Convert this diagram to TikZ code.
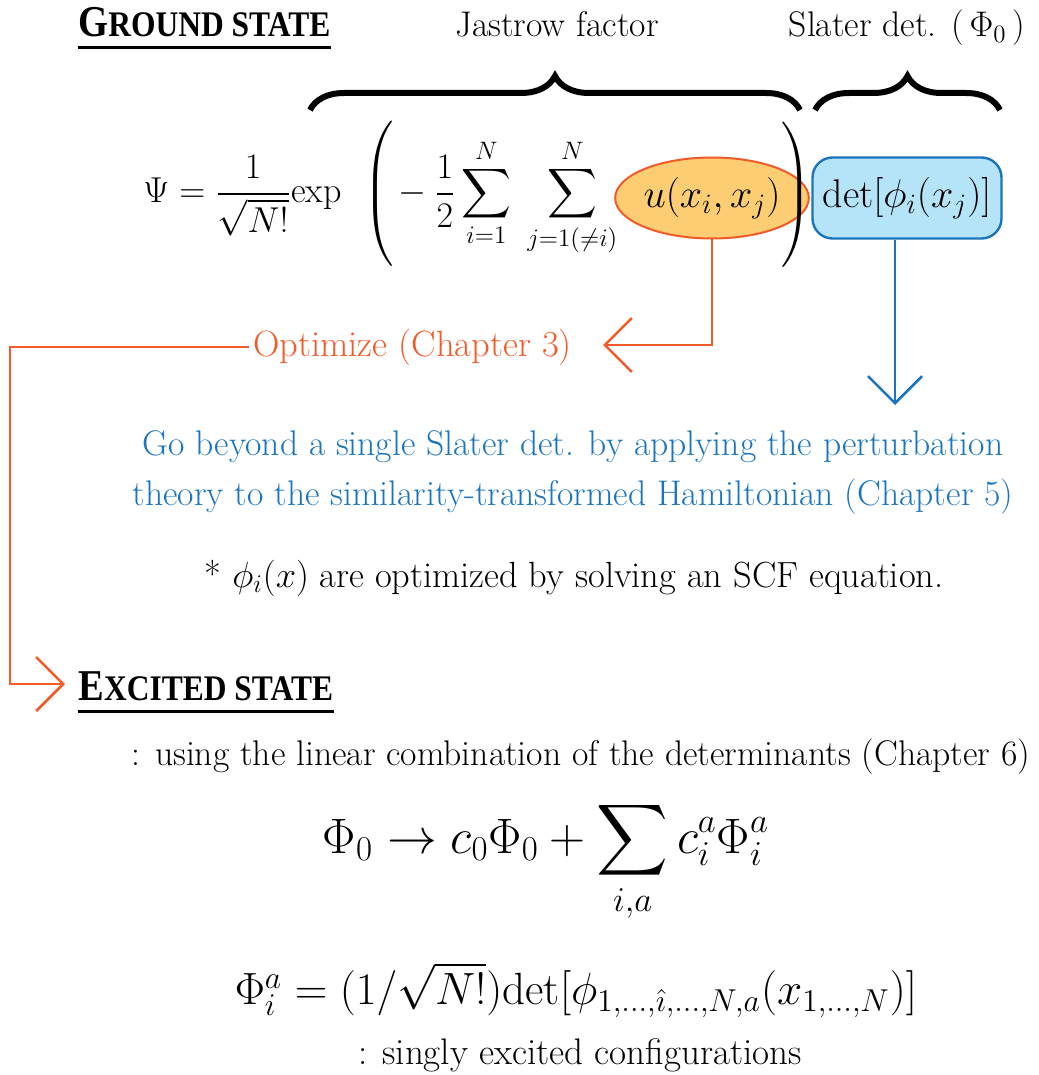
\RequirePackage{fix-cm}
\documentclass[tikz,border=0pt]{standalone}
\usepackage{amsmath}
\usepackage{fontspec}
\usepackage{graphicx}
\usepackage{xcolor}
\usepackage{tikz}
\usetikzlibrary{arrows.meta, positioning, shapes.geometric, decorations.pathreplacing}
\newfontfamily\headfont{Liberation Serif}
\definecolor{optcolor}{HTML}{F15A29}
\definecolor{detcolor}{HTML}{1B75BC}
\definecolor{jasfill}{HTML}{FDCD73}
\definecolor{detfill}{HTML}{B5E3F8}
\newcommand{\headsc}[2]{\scalebox{0.875}[1]{\headfont\bfseries\fontsize{22}{22}\selectfont #1\fontsize{18}{18}\selectfont #2}}

\begin{document}
\begin{tikzpicture}[x=0.5pt, y=-0.5pt,
    heading/.style={anchor=base west, inner sep=0pt},
    headline/.style={line width=1.5pt},
    label/.style={font=\fontsize{17.8}{21}\selectfont, anchor=base},
    eqn/.style={font=\fontsize{18}{22}\selectfont, inner sep=0pt},
    jastrow/.style={ellipse, draw=optcolor, fill=jasfill, line width=1pt, minimum width=81.5pt, minimum height=40.5pt, inner sep=0pt, font=\fontsize{20}{24}\selectfont},
    slater/.style={rectangle, rounded corners=10pt, draw=detcolor, fill=detfill, line width=1.2pt, minimum width=94.5pt, minimum height=40.5pt, inner sep=0pt, font=\fontsize{20}{24}\selectfont},
    brace/.style={decorate, decoration={brace, amplitude=17pt}, line width=3pt},
    optarrow/.style={-{Straight Barb[length=13.5pt, width=27pt]}, optcolor, line width=1.3pt},
    detarrow/.style={-{Straight Barb[length=13.5pt, width=27pt]}, detcolor, line width=1.3pt},
    note/.style={font=\fontsize{17.8}{25}\selectfont, align=center}
]
\useasboundingbox (0,0) rectangle (1038,1075);

% Ground state heading
\node[heading] (ground) at (78,37) {\headsc{G}{ROUND STATE}};
\draw[headline] ([yshift=-5.5pt]ground.base west) -- ([yshift=-5.5pt]ground.base east);

% Braces and their labels
\draw[brace] (310,110) -- (800,110);
\draw[brace] (815,110) -- (1000,110);
\node[label] (jlabel) at (557,37) {Jastrow factor};
\node[label] (slabel) at (907,37) {Slater det. (\,$\Phi_0$\,)};

% The wave function
\node[eqn, anchor=base west] (psi) at (143,203) {$\displaystyle \Psi = \frac{1}{\sqrt{N!}}\mathrm{exp}\;\,\left(\vrule height 30pt depth 30pt width 0pt\right.\!-\frac{1}{2}\sum_{i=1}^{N}\;\sum_{j=1(\neq i)}^{N}$};
\node[jastrow] (u) at (712,198) {$u(x_i,x_j)$};
\node[eqn] (rparen) at (795,195) {$\left.\vrule height 30pt depth 30pt width 0pt\right)$};
\node[slater] (det) at (907,198) {$\det[\phi_i(x_j)]$};

% Optimize the Jastrow factor
\coordinate (opttip) at (603,345);
\node[anchor=west, inner sep=2pt, text=optcolor, font=\fontsize{18.3}{22}\selectfont] (opt) at (249,347) {Optimize (Chapter 3)};
\draw[optarrow] (u.south) |- (opttip);

% Beyond the Slater determinant
\coordinate (dettip) at (895,405);
\draw[detarrow] (det.south -| dettip) -- (dettip);
\node[note, text=detcolor] (beyond) at (573,473) {Go beyond a single Slater det. by applying the perturbation\\theory to the similarity-transformed Hamiltonian (Chapter 5)};
\node[note, font=\fontsize{18.2}{22}\selectfont] (scf) at (574,578) {* $\phi_i(x)$ are optimized by solving an SCF equation.};

% Excited state heading
\node[heading] (excited) at (78,700) {\headsc{E}{XCITED STATE}};
\draw[headline] ([yshift=-5.5pt]excited.base west) -- ([yshift=-5.5pt]excited.base east);
\coordinate (exctip) at (65,684);
\draw[optarrow] (opt.west) -| (10,520) |- (exctip);

% Linear combination of determinants
\node[note] (lincomb) at (581,757) {: using the linear combination of the determinants (Chapter 6)};
\node[font=\fontsize{24.9}{29}\selectfont] (cieq) at (546,862) {$\displaystyle \Phi_0 \to c_0\Phi_0 + \sum_{i,a} c_i^a\Phi_i^a$};
\node[font=\fontsize{22.6}{27}\selectfont] (single) at (576,990) {$\Phi_i^a = (1/\sqrt{N!})\mathrm{det}[\phi_{1,\ldots,\hat{\imath},\ldots,N,a}(x_{1,\ldots,N})]$};
\node[note, font=\fontsize{18.5}{22}\selectfont] (singly) at (580,1055) {: singly excited configurations};
\end{tikzpicture}
\end{document}
